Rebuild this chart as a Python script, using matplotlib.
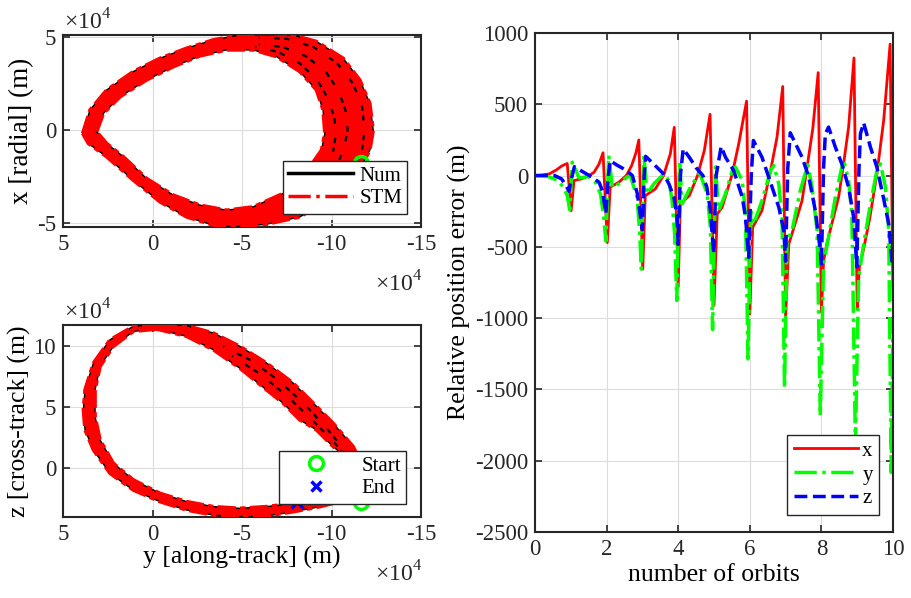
import numpy as np
import matplotlib
matplotlib.use('Agg')
import matplotlib.pyplot as plt
from matplotlib.lines import Line2D

plt.rcParams['font.family'] = ['Liberation Serif', 'DejaVu Serif']
plt.rcParams['mathtext.fontset'] = 'custom'
plt.rcParams['mathtext.rm'] = 'Liberation Serif'
plt.rcParams['axes.unicode_minus'] = False

# relative orbit band, units of 1e4 m (outer and inner edge of the 10 orbits)
xy_outer_y = [3.9, 3.49, 2.56, 1.07, -0.42, -1.91, -3.4, -4.88, -6.37, -7.67, -9.16, -10.65, -11.58, -12.14,
              -12.33, -12.14, -11.67, -10.5, -9.4, -8.23, -6.37, -4.51, -3.4, -1.91, -0.42, 1.07, 2.56, 3.58, 3.9]
xy_outer_x = [-0.18, 1.08, 2.15, 3.14, 3.85, 4.39, 4.84, 5.1, 5.2, 5.14, 4.75, 3.85, 2.69, 1.43,
              0.0, -1.08, -1.97, -3.1, -4.0, -4.66, -5.05, -5.2, -5.1, -4.66, -3.85, -2.69, -1.43, -0.72, -0.18]
xy_inner_y = [3.12, 2.74, 1.81, 0.33, -1.16, -2.65, -4.14, -5.63, -6.93, -8.23, -9.16, -9.53, -9.63,
              -9.44, -8.79, -8.1, -7.3, -5.63, -4.14, -2.65, -1.16, 0.33, 1.63, 2.56, 3.12]
xy_inner_x = [-0.09, 0.9, 1.79, 2.69, 3.4, 3.98, 4.3, 4.3, 3.94, 3.14, 2.15, 1.08, -0.18,
              -1.08, -1.97, -2.8, -3.4, -4.12, -4.3, -4.03, -3.49, -2.6, -1.43, -0.72, -0.09]
# separate orbits visible in the wide right part of the band
xy_arc1_y = [-6.0, -7.5, -9.0, -10.3, -11.2, -11.7, -11.85, -11.7, -11.3]
xy_arc1_x = [4.95, 4.9, 4.45, 3.6, 2.5, 1.3, 0.0, -1.1, -1.9]
xy_arc2_y = [-6.0, -7.3, -8.6, -9.7, -10.4, -10.8, -10.9, -10.7, -10.3]
xy_arc2_x = [4.6, 4.45, 3.95, 3.1, 2.1, 1.0, 0.0, -1.0, -1.9]
xy_arc3_y = [-5.8, -7.0, -8.2, -9.2, -9.8, -10.15, -10.25, -10.1]
xy_arc3_x = [4.45, 4.2, 3.6, 2.7, 1.7, 0.7, -0.2, -1.1]

yz_outer_y = [-0.42, 1.07, 2.37, 3.3, 3.77, 3.86, 3.77, 3.3, 2.37, 1.07, -0.42, -1.91, -3.4, -4.88, -6.37,
              -7.86, -9.35, -10.84, -11.95, -12.1, -11.21, -10.09, -8.98, -7.86, -6.37, -4.88, -3.4, -1.91, -0.42]
yz_outer_z = [11.78, 11.59, 10.49, 8.58, 6.38, 4.74, 3.1, 1.45, -0.47, -1.84, -2.79, -3.48, -3.89, -4.08, -3.97,
              -3.62, -3.2, -2.66, -2.1, -1.0, 1.73, 3.64, 5.29, 6.93, 8.58, 9.95, 11.04, 11.64, 11.78]
yz_inner_y = [-0.23, 1.07, 2.19, 2.93, 3.21, 3.21, 2.93, 2.19, 1.07, -0.42, -1.91, -3.4, -4.88, -6.37,
              -7.86, -9.35, -10.6, -11.2, -11.21, -10.09, -9.16, -8.23, -7.3, -6.37, -4.88, -3.4, -1.91, -0.23]
yz_inner_z = [11.37, 11.18, 9.95, 8.3, 6.38, 4.19, 2.27, 0.36, -1.01, -2.11, -2.79, -3.2, -3.34, -3.2,
              -2.93, -2.52, -2.0, -1.0, 0.36, 1.73, 3.1, 3.92, 5.29, 6.38, 8.16, 9.67, 10.77, 11.37]
yz_arc1_y = [-4.0, -5.5, -7.0, -8.5, -9.8, -10.8]
yz_arc1_z = [9.9, 8.8, 7.2, 5.2, 3.1, 1.3]
yz_arc2_y = [-4.5, -6.0, -7.5, -9.0, -10.2, -11.0]
yz_arc2_z = [9.1, 7.7, 5.9, 3.8, 2.0, 0.6]

start_pt = (-11.65, -1.75, -2.8)   # (y, x, z) in 1e4 m
end_pt = (-8.1, -3.6, -2.8)

# relative position error vs number of orbits
n_x = [0, 0.2, 0.4, 0.6, 0.75, 0.9, 1.01,
       1.09, 1.3, 1.5, 1.65, 1.79, 1.9, 2.02,
       2.1, 2.35, 2.55, 2.7, 2.82, 2.9, 3.01,
       3.08, 3.36, 3.59, 3.78, 3.89, 4.0,
       4.06, 4.31, 4.54, 4.73, 4.89, 5.0,
       5.09, 5.23, 5.51, 5.69, 5.91, 6.0,
       6.08, 6.34, 6.58, 6.76, 6.92, 7.0,
       7.09, 7.32, 7.46, 7.6, 7.76, 7.91, 8.0,
       8.06, 8.15, 8.3, 8.48, 8.62, 8.76, 8.91, 9.0,
       9.06, 9.17, 9.35, 9.55, 9.74, 9.92, 10.0]
err_x = [0, 2, 12, 40, 68, 85, -246,
         -35, -23, 0, 23, 82, 160, -470,
         -82, -45, 0, 70, 160, 250, -656,
         -141, -94, 0, 152, 338, -780,
         -199, -141, 0, 176, 430, -910,
         -270, -222, 12, 222, 522, -970,
         -363, -246, 35, 269, 625, -993,
         -480, -293, -176, 59, 330, 722, -958,
         -600, -480, -330, -152, 82, 340, 825, -935,
         -640, -527, -300, 12, 387, 922, -870]

n_y = [0, 0.37, 0.65, 0.79, 0.9, 0.97,
       1.04, 1.23, 1.51, 1.69, 1.83, 1.92, 1.98,
       2.06, 2.16, 2.28, 2.56, 2.66, 2.85, 2.92, 2.97,
       3.04, 3.13, 3.32, 3.6, 3.74, 3.83, 3.9, 3.96,
       4.04, 4.11, 4.34, 4.6, 4.81, 4.9, 4.96,
       5.04, 5.13, 5.32, 5.51, 5.6, 5.79, 5.88, 5.95,
       6.03, 6.11, 6.34, 6.58, 6.67, 6.81, 6.9, 6.97,
       7.04, 7.18, 7.41, 7.62, 7.74, 7.88, 7.97,
       8.06, 8.2, 8.39, 8.57, 8.65, 8.76, 8.85, 8.95,
       9.04, 9.18, 9.37, 9.55, 9.65, 9.79, 9.88, 9.95, 10.0]
err_y = [0, -7, -35, -82, -140, -240,
         94, -16, -7, -47, -129, -293, -460,
         140, -82, -70, -12, 0, -152, -386, -656,
         140, -129, -58, 12, -35, -176, -410, -876,
         105, -199, -82, 20, -129, -363, -1080,
         60, -246, -129, 35, 59, -35, -269, -1286,
         -250, -340, -176, 35, 70, -59, -293, -1490,
         -457, -386, -105, 75, -82, -386, -1684,
         -621, -433, -152, 59, 82, -35, -269, -1880,
         -715, -480, -199, 35, 82, -82, -386, -2082, -1000]

n_z = [0, 0.3, 0.55, 0.74, 0.84, 0.95,
       1.02, 1.1, 1.36, 1.6, 1.79, 1.88, 1.98,
       2.05, 2.1, 2.28, 2.56, 2.72, 2.86, 2.95, 3.0,
       3.05, 3.09, 3.31, 3.59, 3.74, 3.88, 3.97, 4.0,
       4.06, 4.14, 4.32, 4.5, 4.69, 4.8, 4.9, 4.99,
       5.06, 5.2, 5.32, 5.55, 5.79, 5.88, 5.97,
       6.04, 6.1, 6.34, 6.53, 6.81, 6.95, 7.0,
       7.06, 7.13, 7.46, 7.65, 7.83, 7.97, 8.0,
       8.06, 8.11, 8.2, 8.39, 8.57, 8.76, 8.9, 8.99,
       9.05, 9.09, 9.18, 9.37, 9.55, 9.74, 9.88, 9.97, 10.0]
err_z = [0, 2, 0, -23, -58, -110,
         -20, 62, 23, -12, -47, -105, -265,
         0, 105, 75, 35, 0, -129, -293, -380,
         0, 135, 82, 12, -58, -152, -293, -480,
         0, 187, 125, 55, 0, -82, -246, -550,
         0, 204, 129, 35, -152, -293, -574,
         0, 246, 129, -12, -222, -386, -600,
         50, 300, 129, -12, -246, -527, -632,
         50, 293, 340, 199, 82, -82, -293, -640,
         50, 293, 370, 199, 59, -164, -340, -600, -410]

W, H = 911, 598
fig = plt.figure(figsize=(W / 100, H / 100), dpi=100)

def fa(l, t, r, b):
    return [l / W, 1 - b / H, (r - l) / W, (b - t) / H]

ax1 = fig.add_axes(fa(63, 35, 421, 227))
ax2 = fig.add_axes(fa(63, 325, 421, 517))
ax3 = fig.add_axes(fa(535, 33, 893, 532))

tick_fs = 16.5
lab_fs = 18.5
leg_fs = 15

def style(ax):
    ax.grid(True, color='#dcdcdc', lw=0.8)
    ax.set_axisbelow(True)
    ax.tick_params(direction='in', top=True, right=True, length=5, width=1.2,
                   labelsize=tick_fs, colors='#262626', labelcolor='#262626', pad=5)
    for s in ax.spines.values():
        s.set_linewidth(1.5)
        s.set_color('#262626')


def draw_band(ax, oa, ob, ia, ib, arcs):
    pa = list(oa) + list(ia[::-1])
    pb = list(ob) + list(ib[::-1])
    ax.fill(pa, pb, color='red', lw=0, zorder=2)
    for a, b in [(oa, ob), (ia, ib)]:
        ax.plot(a, b, color='black', lw=1.0, zorder=3)
        ax.plot(a, b, color='red', lw=2.6, ls=(0, (5, 1.2, 1.5, 1.2)), zorder=4)
    for a, b in arcs:
        ax.plot(a, b, color='black', lw=1.6, zorder=3)
        ax.plot(a, b, color='red', lw=2.6, ls=(0, (4, 1.5, 1.2, 1.5)), zorder=4)

# top left: x vs y
draw_band(ax1, xy_outer_y, xy_outer_x, xy_inner_y, xy_inner_x,
          [(xy_arc1_y, xy_arc1_x), (xy_arc2_y, xy_arc2_x), (xy_arc3_y, xy_arc3_x)])
ax1.plot(start_pt[0], start_pt[1], 'o', mfc='none', mec=(0, 1, 0), mew=2.5, ms=10, zorder=5)
ax1.plot(end_pt[0], end_pt[1], 'x', color='blue', mew=2.5, ms=8, zorder=5)
ax1.set_xlim(5, -15)
ax1.set_ylim(-5.2, 5.1)
ax1.set_xticks([5, 0, -5, -10, -15])
ax1.set_yticks([-5, 0, 5])
ax1.set_ylabel('x [radial] (m)', fontsize=lab_fs + 1, labelpad=2)
style(ax1)
h = [Line2D([], [], color='black', lw=2.5), Line2D([], [], color='red', lw=2.5, ls='-.')]
lg = ax1.legend(h, ['Num', 'STM'], loc='lower right', bbox_to_anchor=(0.962, 0.07),
                fontsize=leg_fs, fancybox=False, edgecolor='#262626', framealpha=1,
                handlelength=3.1, handletextpad=0.3, borderpad=0.25, labelspacing=0.15,
                borderaxespad=0)
lg.get_frame().set_linewidth(1.0)
lg.set_zorder(10)

# bottom left: z vs y
draw_band(ax2, yz_outer_y, yz_outer_z, yz_inner_y, yz_inner_z,
          [(yz_arc1_y, yz_arc1_z), (yz_arc2_y, yz_arc2_z)])
ax2.plot(start_pt[0], start_pt[2], 'o', mfc='none', mec=(0, 1, 0), mew=2.5, ms=10, zorder=5)
ax2.plot(end_pt[0], end_pt[2], 'x', color='blue', mew=2.5, ms=8, zorder=5)
ax2.set_xlim(5, -15)
ax2.set_ylim(-4.05, 11.7)
ax2.set_xticks([5, 0, -5, -10, -15])
ax2.set_yticks([0, 5, 10])
ax2.set_ylabel('z [cross-track] (m)', fontsize=lab_fs, labelpad=2)
ax2.set_xlabel('y [along-track] (m)', fontsize=lab_fs, labelpad=1)
style(ax2)
h = [Line2D([], [], ls='none', marker='o', mfc='none', mec=(0, 1, 0), mew=2.5, ms=10),
     Line2D([], [], ls='none', marker='x', color='blue', mew=2.5, ms=7)]
lg = ax2.legend(h, ['Start', 'End'], loc='lower right', bbox_to_anchor=(0.958, 0.07),
                fontsize=leg_fs, fancybox=False, edgecolor='#262626', framealpha=1,
                handlelength=3.1, handletextpad=0.6, borderpad=0.25, labelspacing=0.15,
                borderaxespad=0)
lg.get_frame().set_linewidth(1.0)
lg.set_zorder(10)

# exponent labels
exp_fs = 17
fig.text(64 / W, 1 - 30 / H, '×10$^4$', fontsize=exp_fs, color='#262626')
fig.text(422 / W, 1 - 292 / H, '×10$^4$', fontsize=exp_fs, color='#262626', ha='right')
fig.text(64 / W, 1 - 320 / H, '×10$^4$', fontsize=exp_fs, color='#262626')
fig.text(422 / W, 1 - 582 / H, '×10$^4$', fontsize=exp_fs, color='#262626', ha='right')

# right: errors
ax3.plot(n_x, err_x, color='red', lw=2, label='x')
ax3.plot(n_y, err_y, color=(0, 1, 0), lw=2.5, ls='-.', label='y')
ax3.plot(n_z, err_z, color='blue', lw=2.5, ls='--', label='z')
ax3.set_xlim(0, 10)
ax3.set_ylim(-2500, 1000)
ax3.set_xticks(range(0, 11, 2))
ax3.set_yticks(range(-2500, 1001, 500))
ax3.set_xlabel('number of orbits', fontsize=lab_fs, labelpad=3)
ax3.set_ylabel('Relative position error (m)', fontsize=lab_fs, labelpad=3)
style(ax3)
lg = ax3.legend(loc='lower right', bbox_to_anchor=(0.961, 0.035), fontsize=leg_fs,
                fancybox=False, edgecolor='#262626', framealpha=1,
                handlelength=3.1, handletextpad=0.2, borderpad=0.3, labelspacing=0.2,
                borderaxespad=0)
lg.get_frame().set_linewidth(1.0)

fig.savefig('out.png', dpi=100)
